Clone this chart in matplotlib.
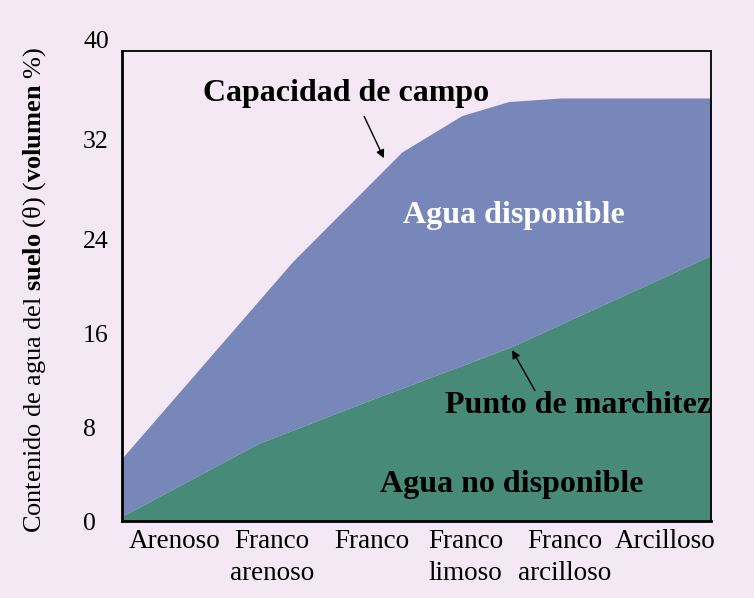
import matplotlib
matplotlib.use("Agg")
import matplotlib.pyplot as plt
import matplotlib.transforms as mtransforms
import numpy as np

plt.rcParams['font.family'] = ['Liberation Serif', 'DejaVu Serif']
plt.rcParams['mathtext.fontset'] = 'custom'
plt.rcParams['mathtext.rm'] = 'Liberation Serif'
plt.rcParams['mathtext.bf'] = 'Liberation Serif:bold'
plt.rcParams['mathtext.it'] = 'Liberation Serif:italic'

# ---- data ----
categories = ["Arenoso", "Franco\narenoso", "Franco", "Franco\nlimoso", "Franco\narcilloso", "Arcilloso"]
cc_x = [0.0, 1.74, 2.85, 3.46, 3.94, 4.47, 6.0]          # capacidad de campo
cc_y = [5.35, 22.1, 31.4, 34.5, 35.7, 36.0, 36.0]
pm_x = [0.0, 1.39, 2.5, 3.96, 6.0]                       # punto de marchitez
pm_y = [0.4, 6.6, 10.2, 14.8, 22.6]
y_ticks = [0, 8, 16, 24, 32, 40]

bg = '#F3E8F4'
blue = '#7787B9'
green = '#478A77'

fig = plt.figure(figsize=(7.54, 5.98), dpi=100, facecolor=bg)
ax = fig.add_axes([122/754, 1-521/598, 589/754, 470/598])
ax.set_facecolor(bg)

xs = np.linspace(0, 6, 601)
cc = np.interp(xs, cc_x, cc_y)
pm = np.interp(xs, pm_x, pm_y)
ax.fill_between(xs, pm, cc, color=blue, linewidth=0)
ax.fill_between(xs, 0, pm, color=green, linewidth=0)

ax.set_xlim(0, 6)
ax.set_ylim(0, 40)

# y ticks: labels only at major, short inward marks at minor
ax.set_yticks(y_ticks)
ax.set_yticklabels([str(v) for v in y_ticks], fontsize=18.5, ha='left')
ax.tick_params(axis='y', which='major', length=0, pad=28)
ax.set_yticks(y_ticks[1:-1], minor=True)
ax.tick_params(axis='y', which='minor', direction='in', length=12, width=1.2, color='black')
ylabs = ax.get_yticklabels()
for lab, dy in zip(ylabs, [0, 0, 0, 0, 6, 11]):
    if dy:
        lab.set_transform(lab.get_transform() + mtransforms.ScaledTranslation(0, dy/100, fig.dpi_scale_trans))

label_pos = [0.54, 1.53, 2.55, 3.5, 4.51, 5.53]
ax.set_xticks(label_pos)
ax.set_xticklabels(categories, fontsize=19.5, linespacing=1.35, va='top')
ax.tick_params(axis='x', length=0, pad=6)

for s in ax.spines.values():
    s.set_color('black')
    s.set_linewidth(1.3)
ax.spines['left'].set_linewidth(2)
ax.spines['bottom'].set_linewidth(2)

fig.text(35/754, 1-290/598,
         r"$\mathrm{Contenido\ de\ agua\ del\ }\mathbf{suelo}\mathrm{\ (θ)\ (}\mathbf{volumen}\mathrm{\ \%)}$",
         rotation=90, ha='center', va='center', fontsize=19)

ax.text(2.28, 36.35, "Capacidad de campo", fontsize=23, fontweight='bold', ha='center', va='center')
ax.annotate("", xy=(2.68, 30.66), xytext=(2.455, 34.65),
            arrowprops=dict(arrowstyle='-|>', color='black', lw=1, mutation_scale=12))
ax.text(3.99, 25.99, "Agua disponible", fontsize=23, fontweight='bold', color='white', ha='center', va='center')
ax.text(6.0, 9.85, "Punto de marchitez", fontsize=23, fontweight='bold', ha='right', va='center')
ax.annotate("", xy=(3.96, 14.75), xytext=(4.22, 10.9),
            arrowprops=dict(arrowstyle='-|>', color='black', lw=1, mutation_scale=12))
ax.text(3.97, 3.14, "Agua no disponible", fontsize=23, fontweight='bold', ha='center', va='center')

fig.savefig("out.png", dpi=100, facecolor=bg)
